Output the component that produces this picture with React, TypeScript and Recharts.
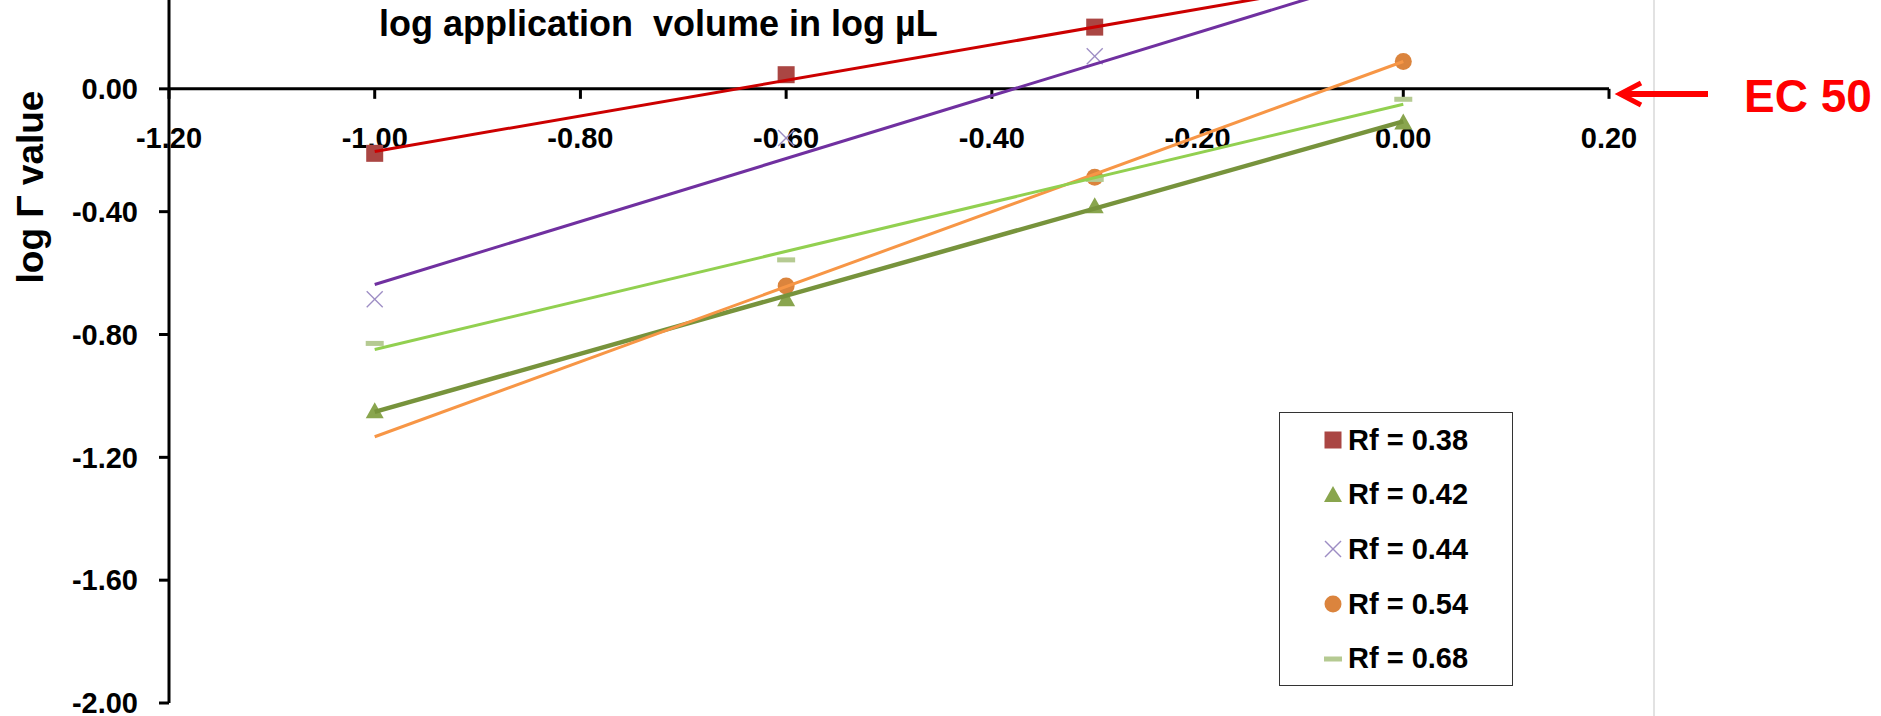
import React from "react";
import {
  ScatterChart, Scatter, XAxis, YAxis, ReferenceLine, ReferenceDot, Legend,
} from "recharts";

const FONT = '"Liberation Sans", Arial, Helvetica, sans-serif';

// log application volume (log µL) at which each spot was measured
const volumes = [-1.0, -0.6, -0.3, 0.0];

// log Γ per Rf band (null = no point plotted)
const rf038 = [-0.21, 0.046, 0.201, null];
const rf042 = [-1.05, -0.685, -0.382, -0.11];
const rf044 = [-0.685, -0.16, 0.106, null];
const rf054 = [null, -0.642, -0.288, 0.089];
const rf068 = [-0.829, -0.557, -0.295, -0.034];

// linear trendline ends, at log volume -1.0 and 0.0
const trendX = [-1.0, 0.0];
const trend038 = [-0.204, 0.375];
const trend042 = [-1.052, -0.106];
const trend044 = [-0.637, 0.388];
const trend054 = [-1.133, 0.089];
const trend068 = [-0.849, -0.05];

const xTicks = [-1.2, -1.0, -0.8, -0.6, -0.4, -0.2, 0.0, 0.2];
const yTicks = [-2.0, -1.6, -1.2, -0.8, -0.4, 0.0];

const SERIES = [
  { name: "Rf = 0.38", values: rf038, trend: trend038, marker: "square", color: "#AA4643", line: "#CC0000", width: 3 },
  { name: "Rf = 0.42", values: rf042, trend: trend042, marker: "triangle", color: "#89A54E", line: "#77933C", width: 4.5 },
  { name: "Rf = 0.44", values: rf044, trend: trend044, marker: "cross", color: "#9D8DC4", line: "#7030A0", width: 3 },
  { name: "Rf = 0.54", values: rf054, trend: trend054, marker: "circle", color: "#DB843D", line: "#F79646", width: 3 },
  { name: "Rf = 0.68", values: rf068, trend: trend068, marker: "dash", color: "#B5CA92", line: "#92D050", width: 3 },
];

const toPoints = (ys: (number | null)[]) =>
  volumes.map((x, i) => ({ x, y: ys[i] })).filter((p) => p.y !== null);

const toTrend = (ys: number[]) => trendX.map((x, i) => ({ x, y: ys[i] }));

function Marker({ kind, cx, cy, color }: { kind: string; cx: number; cy: number; color: string }) {
  switch (kind) {
    case "square":
      return <rect x={cx - 8.5} y={cy - 8.5} width={17} height={17} fill={color} />;
    case "triangle":
      return <polygon points={`${cx},${cy - 9} ${cx - 9},${cy + 7} ${cx + 9},${cy + 7}`} fill={color} />;
    case "cross":
      return (
        <g stroke={color} strokeWidth={1.4}>
          <line x1={cx - 8} y1={cy - 8} x2={cx + 8} y2={cy + 8} />
          <line x1={cx - 8} y1={cy + 8} x2={cx + 8} y2={cy - 8} />
        </g>
      );
    case "circle":
      return <circle cx={cx} cy={cy} r={8.5} fill={color} />;
    default:
      return <rect x={cx - 9} y={cy - 2.5} width={18} height={5} fill={color} />;
  }
}

const NoMark = () => <g />;

// x axis sits on y = 0, so ticks and labels hang off that line
function XTick({ cx, cy, label }: any) {
  return (
    <g>
      <line x1={cx} y1={cy} x2={cx} y2={cy + 10} stroke="#000" strokeWidth={3} />
      <text x={cx} y={cy + 59} textAnchor="middle" fontSize={29} fontWeight={700} fontFamily={FONT} fill="#000">
        {label}
      </text>
    </g>
  );
}

function LegendBox({ payload }: any) {
  const items = (payload || [])
    .map((e: any) => SERIES.find((s) => s.name === e.value))
    .filter(Boolean);
  return (
    <div
      style={{
        boxSizing: "border-box", width: 234, height: 274, border: "1.5px solid #333",
        background: "#fff", fontFamily: FONT, fontWeight: 700, fontSize: 29, color: "#000",
      }}
    >
      {items.map((s: any) => (
        <div key={s.name} style={{ height: 54.6, display: "flex", alignItems: "center", paddingLeft: 43 }}>
          <svg width={20} height={20} style={{ marginRight: 5 }}>
            <Marker kind={s.marker} cx={10} cy={10} color={s.color} />
          </svg>
          <span style={{ whiteSpace: "pre" }}>{s.name}</span>
        </div>
      ))}
    </div>
  );
}

export default function App() {
  return (
    <div
      style={{
        position: "absolute", left: 0, top: 0, width: 1881, height: 716,
        overflow: "hidden", background: "#fff",
      }}
    >
      <div style={{ position: "absolute", left: 0, top: -34 }}>
        <ScatterChart width={1881} height={750} margin={{ top: 0, right: 272, bottom: 13, left: 0 }}>
          <XAxis type="number" dataKey="x" domain={[-1.2, 0.2]} hide />
          <YAxis
            type="number"
            dataKey="y"
            domain={[-2, 0.4]}
            ticks={yTicks}
            interval={0}
            width={169}
            tickFormatter={(v: number) => v.toFixed(2)}
            axisLine={{ stroke: "#000", strokeWidth: 3 }}
            tickLine={{ stroke: "#000", strokeWidth: 3 }}
            tickSize={10}
            tickMargin={21}
            tick={{ fill: "#000", fontSize: 29, fontWeight: 700, fontFamily: FONT }}
          />
          <ReferenceLine y={0} stroke="#000" strokeWidth={3} />
          {xTicks.map((t) => (
            <ReferenceDot
              key={t}
              x={t}
              y={0}
              r={0}
              shape={(p: any) => <XTick {...p} label={t.toFixed(2)} />}
            />
          ))}
          {SERIES.map((s) => (
            <Scatter
              key={s.name}
              name={s.name}
              data={toPoints(s.values)}
              fill={s.color}
              isAnimationActive={false}
              shape={(p: any) => <Marker kind={s.marker} cx={p.cx} cy={p.cy} color={s.color} />}
            />
          ))}
          {SERIES.map((s) => (
            <Scatter
              key={s.name + " trend"}
              name={s.name + " trend"}
              data={toTrend(s.trend)}
              fill={s.line}
              line={{ stroke: s.line, strokeWidth: s.width }}
              shape={NoMark}
              legendType="none"
              isAnimationActive={false}
            />
          ))}
          <Legend
            layout="vertical"
            align="center"
            verticalAlign="middle"
            content={<LegendBox />}
            wrapperStyle={{ left: 1279, top: 446, width: 234, height: 274 }}
          />
        </ScatterChart>
      </div>
      <svg width={1881} height={716} style={{ position: "absolute", left: 0, top: 0, pointerEvents: "none" }}>
        <line x1={1654} y1={0} x2={1654} y2={716} stroke="#D9D9D9" strokeWidth={1.5} />
        <text x={379} y={36} fontSize={36} fontWeight={700} fontFamily={FONT} fill="#000" style={{ whiteSpace: "pre" }}>
          log application  volume in log µL
        </text>
        <text
          x={43}
          y={187}
          transform="rotate(-90 43 187)"
          textAnchor="middle"
          fontSize={37}
          fontWeight={700}
          fontFamily={FONT}
          fill="#000"
        >
          log Γ value
        </text>
        <line x1={1622} y1={94} x2={1708} y2={94} stroke="#FF0000" strokeWidth={6} />
        <polyline points="1641,83 1620,94 1641,105" fill="none" stroke="#FF0000" strokeWidth={5} />
        <text x={1744} y={112} fontSize={46} fontWeight={700} fontFamily={FONT} fill="#FF0000">
          EC 50
        </text>
      </svg>
    </div>
  );
}
